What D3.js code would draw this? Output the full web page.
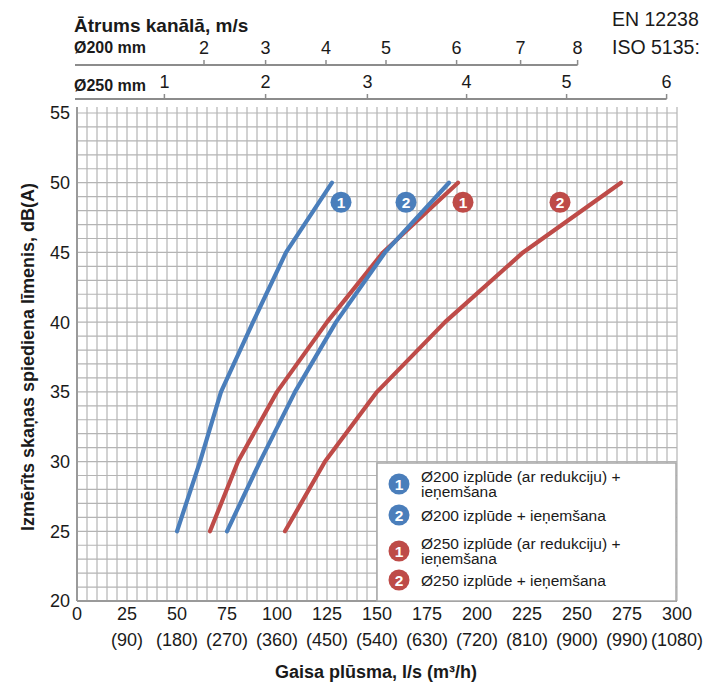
<!DOCTYPE html>
<html>
<head>
<meta charset="utf-8">
<script src="https://cdn.jsdelivr.net/npm/d3@7/dist/d3.min.js"></script>
<style>
html,body{margin:0;padding:0;background:#fff;}
svg{display:block;}
text{font-family:"Liberation Sans",Arial,sans-serif;fill:#1a1a1a;}
</style>
</head>
<body>
<script>
// ---------- data ----------
const flowTicks = [0,25,50,75,100,125,150,175,200,225,250,275,300];
const flowTicksM3h = ["","(90)","(180)","(270)","(360)","(450)","(540)","(630)","(720)","(810)","(900)","(990)","(1080)"];
const dbTicks = [20,25,30,35,40,45,50,55];

// duct velocity scales (m/s) and the flow (l/s) they sit at
const vel200 = [2,3,4,5,6,7,8];
const vel200Flow = [63.5,94.3,124.5,154.5,189.8,221.8,250.3];
const vel250 = [1,2,3,4,5,6];
const vel250Flow = [43.7,94.3,145.2,194.8,244.8,294.8];

// series: flow (l/s) vs sound pressure level dB(A)
const db = [25,30,35,40,45,50];
const flowD200Red = [50,61.5,72,88,104.5,127.5];   // Ø200 with reduction (blue 1)
const flowD200    = [75,91.5,109,129.5,154,186];   // Ø200 (blue 2)
const flowD250Red = [66.5,80.5,100,125,153,190.5]; // Ø250 with reduction (red 1)
const flowD250    = [104,124,150,184,223,272];     // Ø250 (red 2)

const seriesNames = ["Ø200 izplūde (ar redukciju) +|ieņemšana","Ø200 izplūde + ieņemšana","Ø250 izplūde (ar redukciju) +|ieņemšana","Ø250 izplūde + ieņemšana"];
const seriesNums = ["1","2","1","2"];
const seriesColors = ["#4a7ebb","#4a7ebb","#be4b48","#be4b48"];
const labelFlow = [132,164.5,193,241.5];
const labelDb = [48.6,48.6,48.6,48.6];

// ---------- chart ----------
const W=704,H=684;
const svg=d3.select("body").append("svg").attr("width",W).attr("height",H);
const x=d3.scaleLinear().domain([0,300]).range([77,677]);
const y=d3.scaleLinear().domain([20,55]).range([601,113]);

const grid=svg.append("g");
grid.selectAll("line.v").data(d3.range(0,301,5)).join("line")
  .attr("x1",d=>x(d)).attr("x2",d=>x(d)).attr("y1",y(55)-6).attr("y2",y(20))
  .attr("stroke","#b4b4b4").attr("stroke-width",1.2);
grid.selectAll("line.h").data(d3.range(20,56,1)).join("line")
  .attr("x1",x(0)).attr("x2",x(300)).attr("y1",d=>y(d)).attr("y2",d=>y(d))
  .attr("stroke","#b4b4b4").attr("stroke-width",1.2);
// plot frame left & bottom
svg.append("line").attr("x1",x(0)).attr("x2",x(0)).attr("y1",y(55)-6).attr("y2",y(20)).attr("stroke","#9a9a9a").attr("stroke-width",2);
svg.append("line").attr("x1",x(0)).attr("x2",x(300)).attr("y1",y(20)).attr("y2",y(20)).attr("stroke","#9a9a9a").attr("stroke-width",2);

// legend box (covers grid)
const lg=svg.append("g");
lg.append("rect").attr("x",x(150)).attr("y",463).attr("width",x(300)-x(150)-1).attr("height",y(20)-463)
  .attr("fill","#fff").attr("stroke","#a8a8a8").attr("stroke-width",1.5);

// series lines
const allFlows=[flowD200Red,flowD200,flowD250Red,flowD250];
const line=d3.line().x(d=>x(d[0])).y(d=>y(d[1]));
const drawOrder=[2,3,1,0];
drawOrder.forEach(i=>{
  svg.append("path").datum(allFlows[i].map((f,k)=>[f,db[k]]))
    .attr("d",line).attr("fill","none").attr("stroke",seriesColors[i])
    .attr("stroke-width",4.2).attr("stroke-linecap","round").attr("stroke-linejoin","round");
});

function badge(g,cx,cy,num,color){
  g.append("circle").attr("cx",cx).attr("cy",cy).attr("r",10.5).attr("fill",color);
  g.append("text").attr("x",cx).attr("y",cy).attr("dy","0.36em").attr("text-anchor","middle")
    .attr("font-weight","bold").attr("font-size",15.5).style("fill","#fff").text(num);
}
// in-chart badges
seriesNums.forEach((n,i)=>badge(svg,x(labelFlow[i]),y(labelDb[i]),n,seriesColors[i]));

// legend items
const legCy=[484,515,551,580];
seriesNames.forEach((name,i)=>{
  badge(lg,399,legCy[i],seriesNums[i],seriesColors[i]);
  const parts=name.split("|");
  if(parts.length===2){
    lg.append("text").attr("font-size",15.5).attr("x",421).attr("y",legCy[i]-2.5).text(parts[0]);
    lg.append("text").attr("font-size",15.5).attr("x",421).attr("y",legCy[i]+12.5).text(parts[1]);
  } else {
    lg.append("text").attr("font-size",15.5).attr("x",421).attr("y",legCy[i]+5.5).text(parts[0]);
  }
});

// y axis labels
svg.selectAll("text.yt").data(dbTicks).join("text")
  .attr("x",70).attr("y",d=>y(d)).attr("dy","0.36em").attr("text-anchor","end")
  .attr("font-size",18).text(d=>d);
svg.append("text").attr("transform","translate(34,357) rotate(-90)").attr("text-anchor","middle")
  .attr("font-weight","bold").attr("font-size",18).text("Izmērīts skaņas spiediena līmenis, dB(A)");

// x axis labels
svg.selectAll("text.xt").data(flowTicks).join("text")
  .attr("x",d=>x(d)).attr("y",620).attr("text-anchor","middle").attr("font-size",18).text(d=>d);
svg.selectAll("text.xt2").data(flowTicks).join("text")
  .attr("x",d=>x(d)).attr("y",646).attr("text-anchor","middle").attr("font-size",18).text((d,i)=>flowTicksM3h[i]);
svg.append("text").attr("x",376).attr("y",678).attr("text-anchor","middle")
  .attr("font-weight","bold").attr("font-size",18).text("Gaisa plūsma, l/s (m³/h)");

// top velocity axes
svg.append("text").attr("x",74).attr("y",32).attr("font-weight","bold").attr("font-size",19).text("Ātrums kanālā, m/s");
svg.append("text").attr("x",74).attr("y",53).attr("font-weight","bold").attr("font-size",16).text("Ø200 mm");
svg.append("text").attr("x",74).attr("y",91).attr("font-weight","bold").attr("font-size",16).text("Ø250 mm");

function topAxis(vals,flows,ly){
  const g=svg.append("g");
  g.append("line").attr("x1",75).attr("x2",x(flows[flows.length-1])).attr("y1",ly).attr("y2",ly)
    .attr("stroke","#8c8c8c").attr("stroke-width",2);
  g.selectAll("line.t").data(flows).join("line")
    .attr("x1",d=>x(d)).attr("x2",d=>x(d)).attr("y1",ly-5).attr("y2",ly).attr("stroke","#8c8c8c").attr("stroke-width",1.5);
  g.selectAll("text").data(vals).join("text")
    .attr("x",(d,i)=>x(flows[i])).attr("y",ly-11).attr("text-anchor","middle").attr("font-size",18).text(d=>d);
}
topAxis(vel200,vel200Flow,65);
topAxis(vel250,vel250Flow,99);

// standards text
svg.append("text").attr("x",612).attr("y",26).attr("font-size",19.5).text("EN 12238");
svg.append("text").attr("x",612).attr("y",54).attr("font-size",19.5).text("ISO 5135:");
</script>
</body>
</html>
